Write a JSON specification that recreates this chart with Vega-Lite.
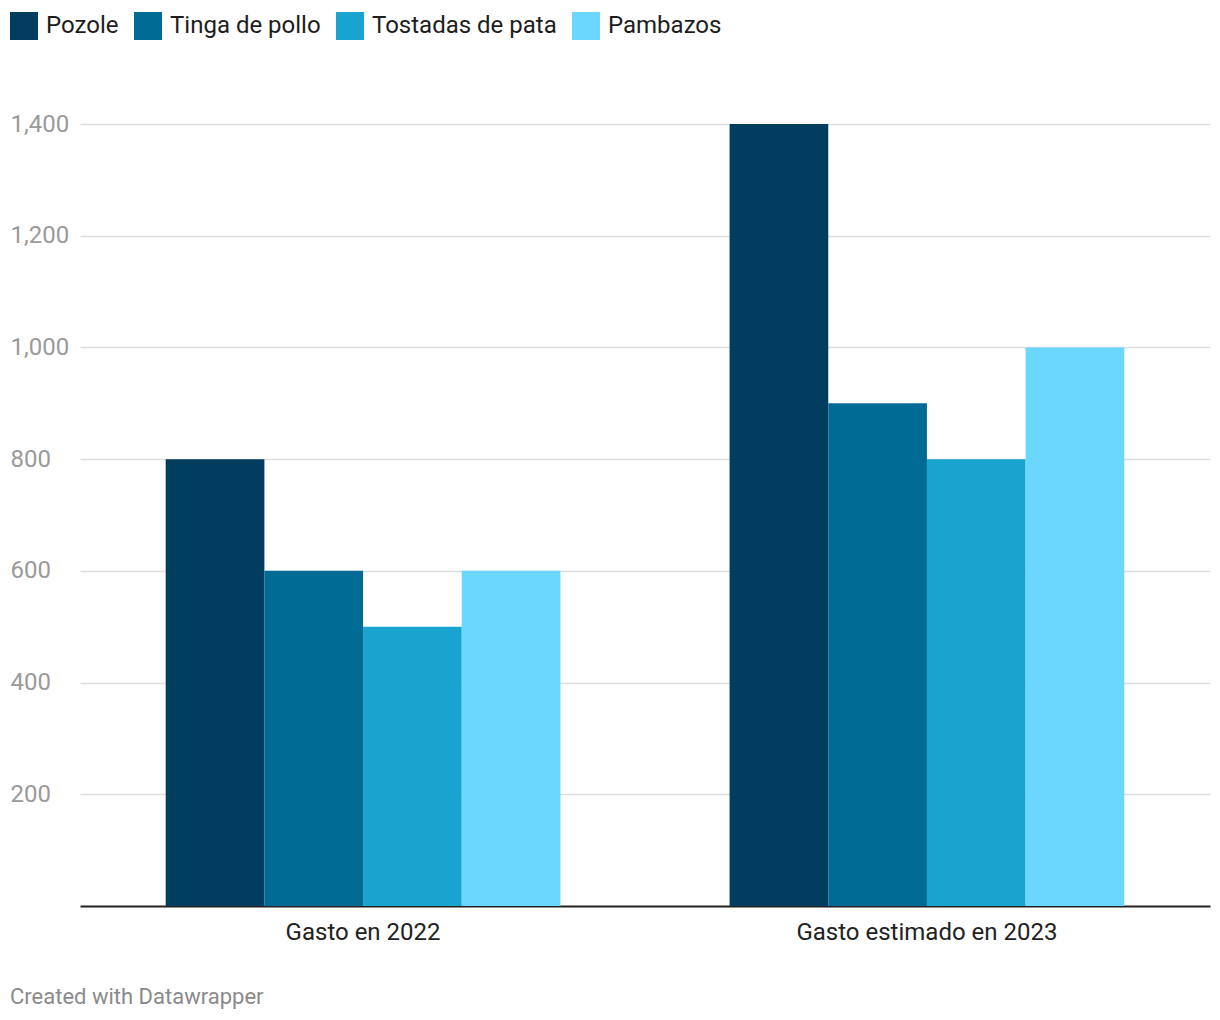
{
  "$schema": "https://vega.github.io/schema/vega-lite/v6.json",
  "width": 1130,
  "height": 782,
  "autosize": {"type": "none"},
  "padding": {"left": 80, "top": 124, "right": 10, "bottom": 114},
  "background": "white",
  "config": {
    "view": {"stroke": null},
    "font": "Roboto"
  },
  "title": {
    "text": "Created with Datawrapper",
    "orient": "bottom",
    "anchor": "start",
    "dx": 0,
    "offset": 43,
    "font": "Roboto",
    "fontSize": 22,
    "fontWeight": "normal",
    "color": "#8a8a8a"
  },
  "data": {
    "values": [
      {"periodo": "Gasto en 2022", "platillo": "Pozole", "gasto": 800},
      {"periodo": "Gasto en 2022", "platillo": "Tinga de pollo", "gasto": 600},
      {"periodo": "Gasto en 2022", "platillo": "Tostadas de pata", "gasto": 500},
      {"periodo": "Gasto en 2022", "platillo": "Pambazos", "gasto": 600},
      {"periodo": "Gasto estimado en 2023", "platillo": "Pozole", "gasto": 1400},
      {"periodo": "Gasto estimado en 2023", "platillo": "Tinga de pollo", "gasto": 900},
      {"periodo": "Gasto estimado en 2023", "platillo": "Tostadas de pata", "gasto": 800},
      {"periodo": "Gasto estimado en 2023", "platillo": "Pambazos", "gasto": 1000}
    ]
  },
  "mark": {"type": "bar"},
  "encoding": {
    "x": {
      "field": "periodo",
      "type": "nominal",
      "sort": ["Gasto en 2022", "Gasto estimado en 2023"],
      "scale": {"paddingInner": 0.3, "paddingOuter": 0.152},
      "axis": {
        "title": null,
        "labelAngle": 0,
        "ticks": false,
        "tickSize": 0,
        "labelPadding": 14,
        "labelFont": "Roboto",
        "labelFontSize": 24,
        "labelColor": "#222222",
        "labelLimit": 600,
        "domainColor": "#222222",
        "domainWidth": 1.8,
        "grid": false
      }
    },
    "xOffset": {
      "field": "platillo",
      "type": "nominal",
      "sort": ["Pozole", "Tinga de pollo", "Tostadas de pata", "Pambazos"],
      "scale": {"paddingInner": 0, "paddingOuter": 0}
    },
    "y": {
      "field": "gasto",
      "type": "quantitative",
      "scale": {"domain": [0, 1400], "nice": false},
      "axis": {
        "title": null,
        "values": [200, 400, 600, 800, 1000, 1200, 1400],
        "format": ",d",
        "domain": false,
        "ticks": false,
        "tickSize": 0,
        "labelAlign": "left",
        "labelPadding": 70,
        "labelFont": "Roboto",
        "labelFontSize": 24,
        "labelColor": "#9a9a9a",
        "gridColor": "#dddddd",
        "gridWidth": 1.3
      }
    },
    "color": {
      "field": "platillo",
      "type": "nominal",
      "sort": ["Pozole", "Tinga de pollo", "Tostadas de pata", "Pambazos"],
      "scale": {
        "domain": ["Pozole", "Tinga de pollo", "Tostadas de pata", "Pambazos"],
        "range": ["#003d5f", "#006c96", "#19a3cf", "#6bd7fe"]
      },
      "legend": {
        "title": null,
        "orient": "none",
        "direction": "horizontal",
        "legendX": -70,
        "legendY": -112,
        "symbolType": "square",
        "symbolSize": 784,
        "symbolStrokeWidth": 0,
        "symbolOpacity": 1,
        "labelOffset": 8,
        "columnPadding": 15,
        "labelFont": "Roboto",
        "labelFontSize": 24,
        "labelColor": "#1d1d1d",
        "labelLimit": 400
      }
    }
  }
}
